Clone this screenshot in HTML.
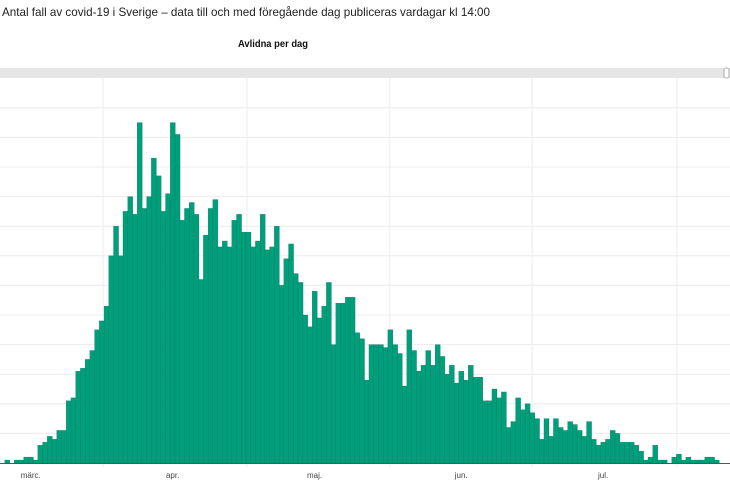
<!DOCTYPE html>
<html><head><meta charset="utf-8"><style>
html,body{margin:0;padding:0;background:#fff;width:730px;height:487px;overflow:hidden;font-family:"Liberation Sans",sans-serif}
</style></head><body>
<svg id="chart" width="730" height="487" xmlns="http://www.w3.org/2000/svg">
<text x="2" y="16" font-size="12" fill="#222" textLength="488" lengthAdjust="spacingAndGlyphs">Antal fall av covid-19 i Sverige – data till och med föregående dag publiceras vardagar kl 14:00</text>
<text x="273" y="47" font-size="10" fill="#111" text-anchor="middle" font-weight="bold" textLength="70" lengthAdjust="spacingAndGlyphs">Avlidna per dag</text>
<rect x="0" y="68" width="730" height="10" fill="#e6e6e6"/>
<rect x="724" y="68" width="5" height="10" rx="2" fill="#fff" stroke="#999" stroke-width="0.8"/>
<g id="grid"></g>
<g id="bars"></g>
<line x1="0" y1="463.5" x2="730" y2="463.5" stroke="#555" stroke-width="1"/>
<g id="xlabels"></g>
</svg>
<script>
const values = [0,1,0,1,1,2,2,1,6,7,9,8,11,11,21,22,31,32,35,38,45,48,53,70,80,70,85,90,84,115,86,90,103,97,85,91,115,111,82,86,88,84,62,77,86,89,73,75,73,82,84,78,78,
73,75,84,72,73,80,60,69,74,64,61,50,46,58,49,53,61,40,54,54,56,56,44,42,28,40,40,40,39,45,40,37,26,45,38,31,33,38,33,40,36,30,33,27,31,28,33,29,29,
21,21,25,22,24,12,14,22,18,20,17,15,8,15,9,15,12,11,14,13,11,9,14,8,6,7,8,11,10,7,7,7,6,4,1,2,6,1,1,0,2,3,1,2,1,1,1,2,2,1];
const yTicks = [0,10,20,30,40,50,60,70,80,90,100,110,120];
const monthLabels = ["märc.","apr.","maj.","jun.","jul."];
const monthLabelDays = [6.5,36.5,66.5,97.5,127.5];
const monthGridDays = [21.8,52.2,82.4,112.5,143.1];
const NS="http://www.w3.org/2000/svg";
const baseY=463, pxPer=2.96, bw=719/values.length;
const y=v=>baseY-v*pxPer;
const x=i=>i*bw;
const grid=document.getElementById('grid'), bars=document.getElementById('bars'), xl=document.getElementById('xlabels');
yTicks.forEach(t=>{ if(t===0) return; const yy=y(t); if(yy<79) return;
  const l=document.createElementNS(NS,'line');
  
  
  l.setAttribute('x1',0);l.setAttribute('x2',730);l.setAttribute('y1',yy);l.setAttribute('y2',yy);
  l.setAttribute('stroke','#ececec');l.setAttribute('stroke-width','1');grid.appendChild(l);});
monthGridDays.forEach(d=>{
  const l=document.createElementNS(NS,'line');
  
  
  l.setAttribute('x1',x(d));l.setAttribute('x2',x(d));l.setAttribute('y1',78);l.setAttribute('y2',467);
  l.setAttribute('stroke','#ececec');l.setAttribute('stroke-width','1');grid.appendChild(l);});
values.forEach((v,i)=>{ if(v<=0) return;
  const r=document.createElementNS(NS,'rect');
  
  
  r.setAttribute('x',x(i));r.setAttribute('width',bw+0.3);r.setAttribute('y',y(v));r.setAttribute('height',v*pxPer);
  r.setAttribute('fill','#009e7b');r.setAttribute('stroke','#00775c');r.setAttribute('stroke-width','0.3');bars.appendChild(r);});
monthLabels.forEach((m,i)=>{
  const t=document.createElementNS(NS,'text');
  
  
  t.setAttribute('x',x(monthLabelDays[i]));t.setAttribute('y',478);t.setAttribute('font-size','8');
  t.setAttribute('fill','#444');t.setAttribute('text-anchor','middle');t.textContent=m;xl.appendChild(t);});
</script>
</body></html>
